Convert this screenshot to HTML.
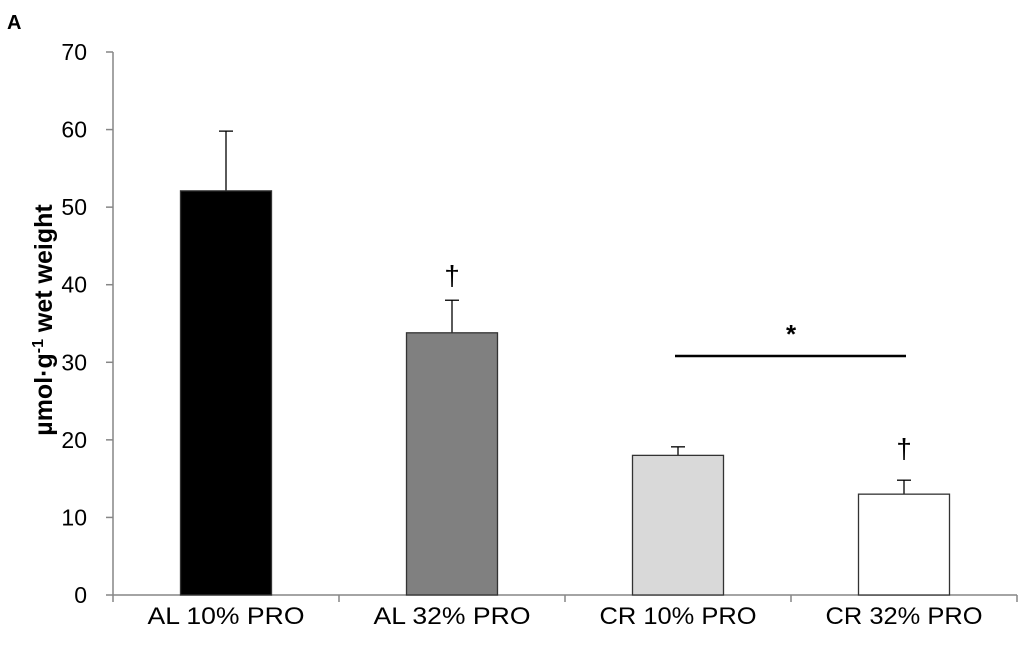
<!DOCTYPE html>
<html><head><meta charset="utf-8"><style>
body{margin:0;background:#fff;}
svg text{font-family:"Liberation Sans",Arial,sans-serif;}
</style></head><body>
<svg width="1024" height="642" viewBox="0 0 1024 642">
<text x="7" y="29" font-size="20" font-weight="bold">A</text>
<g id="chart"></g>
</svg>
<script>
const categories=["AL 10% PRO","AL 32% PRO","CR 10% PRO","CR 32% PRO"];
const values=[52.1,33.8,18.0,13.0];
const errors=[7.7,4.2,1.1,1.8];
const fills=["#000000","#808080","#d9d9d9","#ffffff"];
const yTicks=[0,10,20,30,40,50,60,70];
const x0=113,x1=1017,y0=595,y1=52,yMax=70;
const ns="http://www.w3.org/2000/svg";
const g=document.getElementById('chart');
function Y(v){return y0-(v/yMax)*(y0-y1);}
const bw=(x1-x0)/categories.length;
function X(i){return x0+bw*(i+0.5);}
function el(t,a){const e=document.createElementNS(ns,t);for(const k in a)e.setAttribute(k,a[k]);g.appendChild(e);return e;}
let e=el('line',{x1:x0,y1:y1,x2:x0,y2:y0,stroke:'#868686','stroke-width':1.5});


e=el('line',{x1:x0,y1:y0,x2:x1,y2:y0,stroke:'#868686','stroke-width':1.5});


yTicks.forEach(t=>{
 let l=el('line',{x1:x0-7,y1:Y(t),x2:x0,y2:Y(t),stroke:'#868686','stroke-width':1.5});
 
 
 let tx=el('text',{x:87,y:Y(t)+8,'font-size':23,'text-anchor':'end'});tx.textContent=t;
 
 
});
for(let i=0;i<=categories.length;i++){
 let l=el('line',{x1:x0+bw*i,y1:y0,x2:x0+bw*i,y2:y0+7,stroke:'#868686','stroke-width':1.5});
 
 
}
categories.forEach((c,i)=>{
 const cx=X(i),w=91;
 let ey=Y(values[i]+errors[i]);
 let el1=el('line',{x1:cx,y1:Y(values[i]),x2:cx,y2:ey,stroke:'#000','stroke-width':1.3});
 
 
 let cap=el('line',{x1:cx-7,y1:ey,x2:cx+7,y2:ey,stroke:'#000','stroke-width':1.3});
 
 
 let r=el('rect',{x:cx-w/2,y:Y(values[i]),width:w,height:y0-Y(values[i]),fill:fills[i],stroke:'#333','stroke-width':1.3});
 
 
 let t=el('text',{x:cx,y:624,'font-size':24,'text-anchor':'middle',textLength:157,lengthAdjust:'spacingAndGlyphs'});t.textContent=c;
 
 
});
let yt=el('text',{x:0,y:0,'font-size':25,'font-weight':'bold','text-anchor':'middle',transform:'translate(52,320) rotate(-90)'});
yt.innerHTML='µmol·g<tspan dy="-9" font-size="16">-1</tspan><tspan dy="9"> wet weight</tspan>';


let d1=el('text',{x:X(1),y:285,'font-size':28,'text-anchor':'middle'});d1.textContent='†';


let d2=el('text',{x:X(3),y:458,'font-size':28,'text-anchor':'middle'});d2.textContent='†';


let sl=el('line',{x1:X(2)-3,y1:356,x2:X(3)+2,y2:356,stroke:'#000','stroke-width':2.5});


let st=el('text',{x:(X(2)+X(3))/2,y:343,'font-size':26,'font-weight':'bold','text-anchor':'middle'});st.textContent='*';


</script>
</body></html>
